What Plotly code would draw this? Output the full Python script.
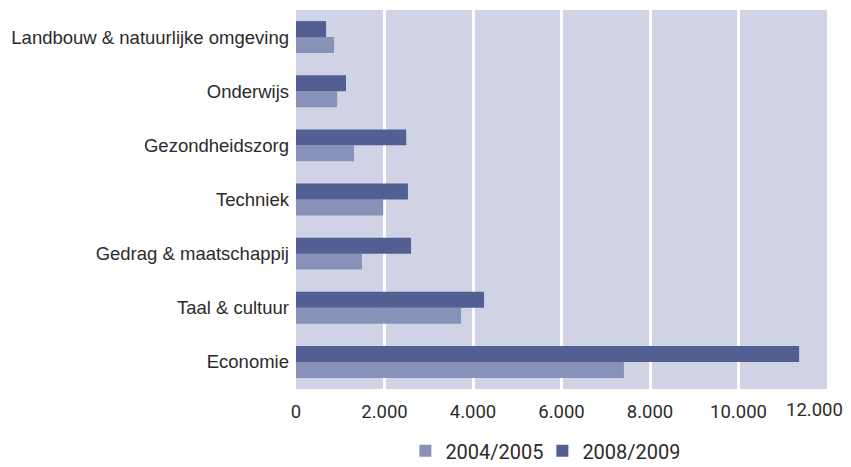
import plotly.graph_objects as go

categories = [
    "Economie",
    "Taal & cultuur",
    "Gedrag & maatschappij",
    "Techniek",
    "Gezondheidszorg",
    "Onderwijs",
    "Landbouw & natuurlijke omgeving",
]
values_2004 = [7410, 3730, 1490, 1970, 1310, 930, 860]
values_2008 = [11370, 4250, 2600, 2530, 2490, 1130, 680]
series_names = ["2004/2005", "2008/2009"]
tick_vals = [0, 2000, 4000, 6000, 8000, 10000]
tick_text = ["0", "2.000", "4.000", "6.000", "8.000", "10.000"]

fig = go.Figure()
fig.add_trace(go.Bar(y=categories, x=values_2004, name=series_names[0],
                     orientation="h", marker=dict(color="#8891b7", line=dict(width=0))))
fig.add_trace(go.Bar(y=categories, x=values_2008, name=series_names[1],
                     orientation="h", marker=dict(color="#525f92", line=dict(width=0))))

fig.update_layout(
    width=851, height=467,
    margin=dict(l=296, r=24, t=10, b=78, autoexpand=False),
    paper_bgcolor="white",
    plot_bgcolor="#d0d3e5",
    barmode="group",
    bargap=0.41,
    bargroupgap=0,
    showlegend=True,
    legend=dict(orientation="h", xref="paper", yref="paper",
                x=0.464, xanchor="center", y=-0.163, yanchor="middle",
                font=dict(family="Roboto", size=20, color="#2b2b2b"),
                traceorder="normal", itemwidth=30, entrywidth=92,
                bgcolor="rgba(0,0,0,0)", borderwidth=0),
    font=dict(family="Liberation Sans", color="#2b2b2b"),
)
fig.update_xaxes(range=[0, 12000], tickvals=tick_vals, ticktext=tick_text,
                 showgrid=True, gridcolor="white", gridwidth=2.5,
                 zeroline=False, showline=False, ticks="",
                 ticklabelstandoff=9,
                 tickfont=dict(family="Roboto", size=18.5, color="#2b2b2b"))
fig.update_yaxes(showgrid=False, zeroline=False, showline=False, ticks="",
                 ticklabelstandoff=6,
                 tickfont=dict(family="Liberation Sans", size=18.5, color="#2b2b2b"))
fig.add_annotation(x=12000, y=0, xref="x", yref="paper", text="12.000",
                   showarrow=False, xanchor="center", yanchor="middle", xshift=-13, yshift=-21,
                   font=dict(family="Roboto", size=18.5, color="#2b2b2b"))

fig.write_html("out.html", config={"displayModeBar": False},
               post_script="document.body.style.margin='0';")
